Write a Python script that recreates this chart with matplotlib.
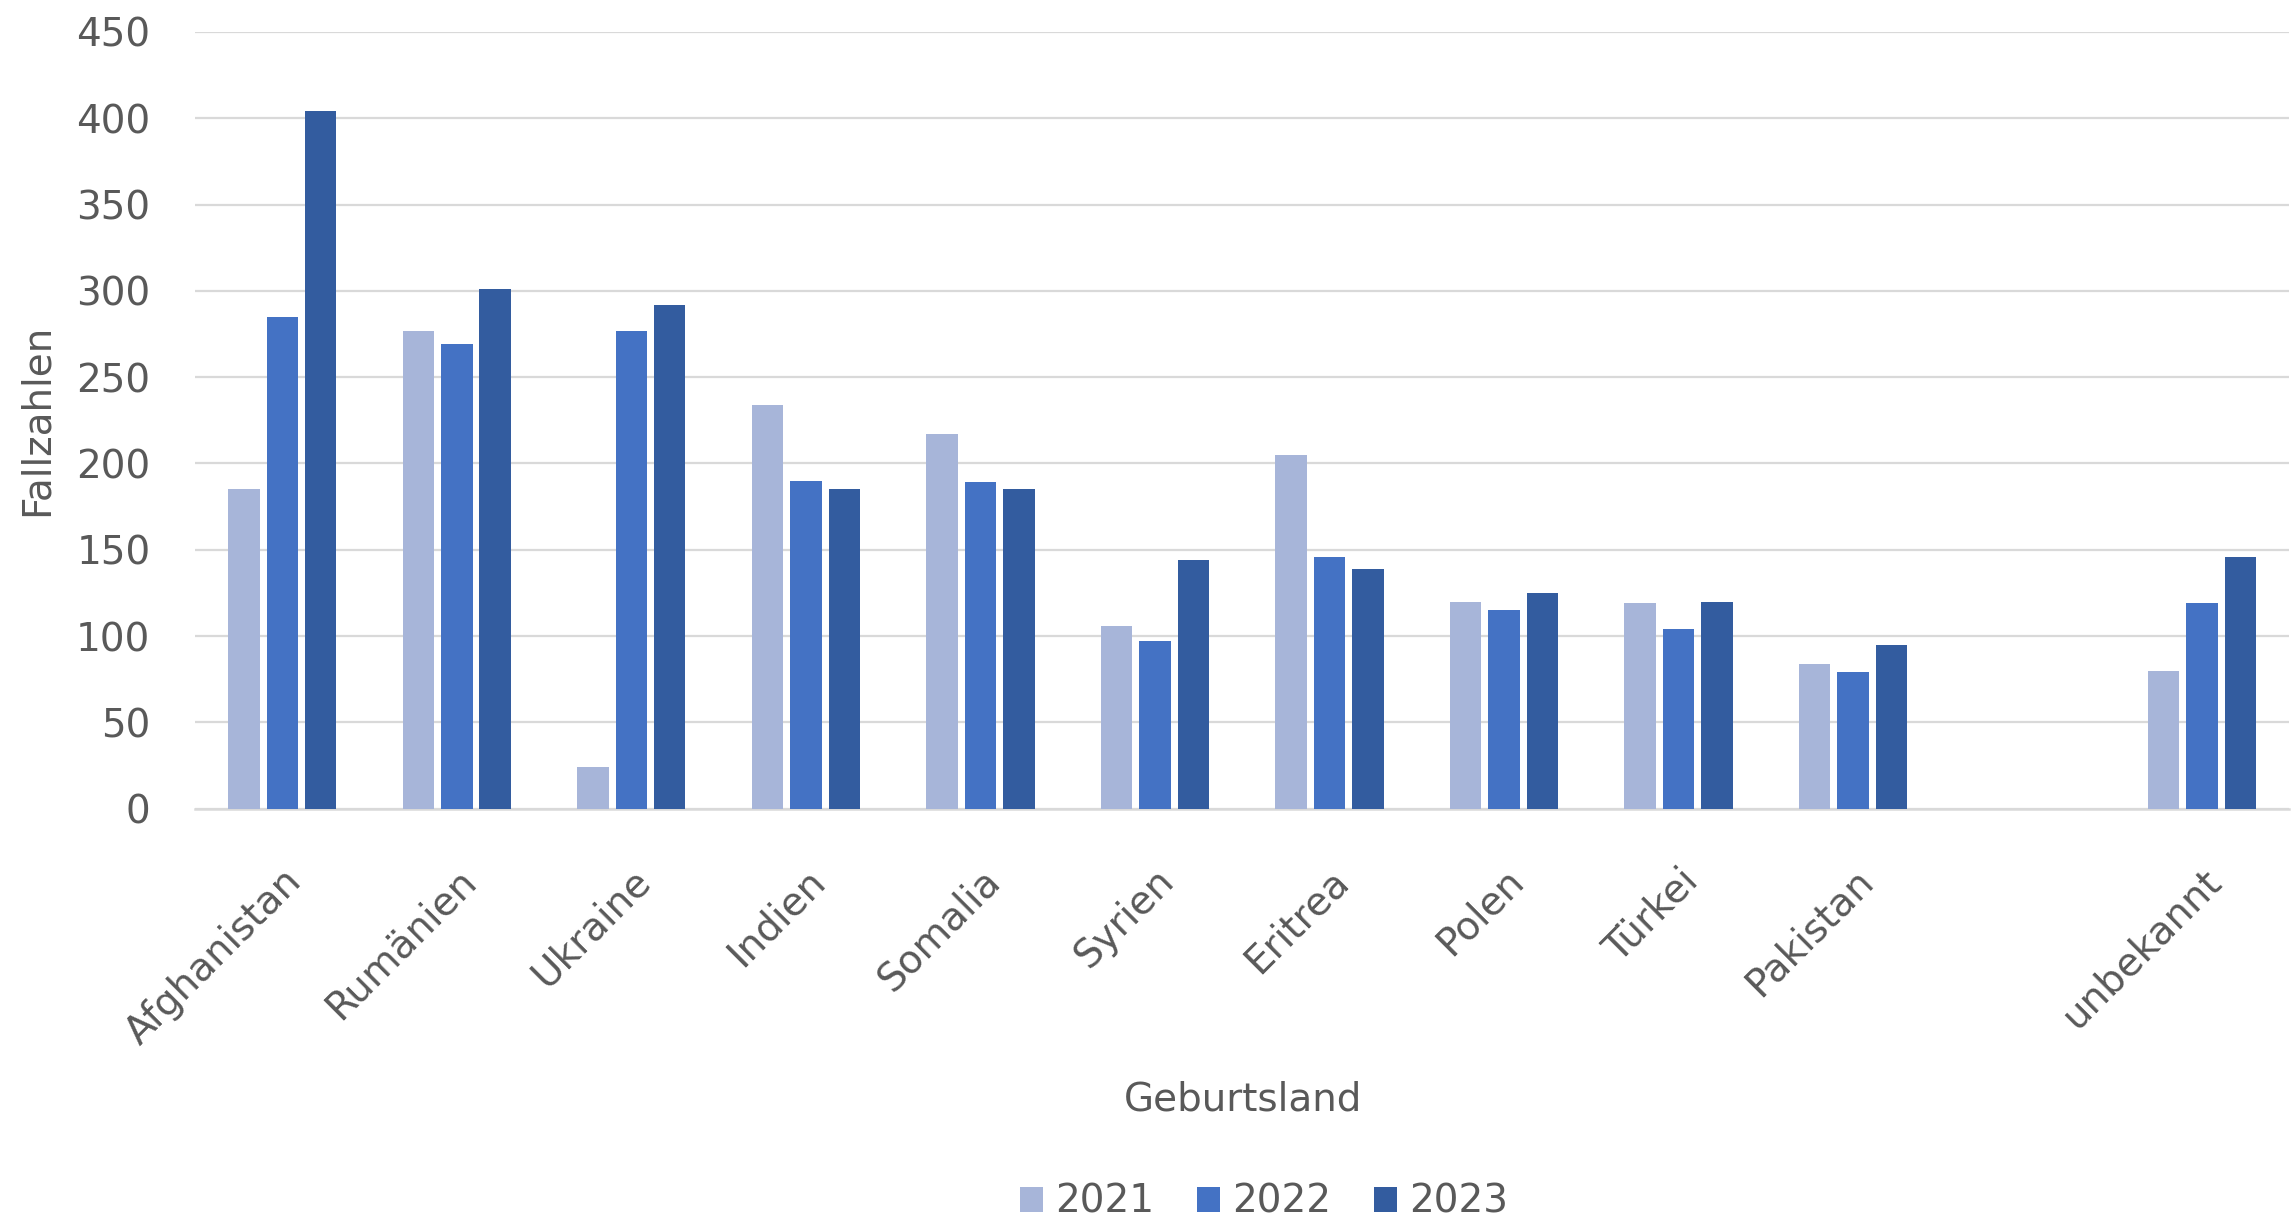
import matplotlib
matplotlib.use("Agg")
import matplotlib.pyplot as plt
import numpy as np

# Fallzahlen nach Geburtsland, 2021-2023
# die leere Kategorie vor "unbekannt" ist im Original eine Lücke
LAENDER = ["Afghanistan", "Rumänien", "Ukraine", "Indien", "Somalia", "Syrien",
           "Eritrea", "Polen", "Türkei", "Pakistan", "", "unbekannt"]
WERTE_2021 = [185, 277, 24, 234, 217, 106, 205, 120, 119, 84, np.nan, 80]
WERTE_2022 = [285, 269, 277, 190, 189, 97, 146, 115, 104, 79, np.nan, 119]
WERTE_2023 = [404, 301, 292, 185, 185, 144, 139, 125, 120, 95, np.nan, 146]
JAHRE = ["2021", "2022", "2023"]
Y_TICKS = [0, 50, 100, 150, 200, 250, 300, 350, 400, 450]

COLORS = ["#A7B5D9", "#4472C4", "#335C9F"]
INK = "#595959"
GRID = "#D9D9D9"
FS = 28

plt.rcParams["font.family"] = ["DejaVu Sans"]

fig = plt.figure(figsize=(22.94, 12.29), dpi=100)
ax = fig.add_axes([0.085, 0.342, 0.913, 0.632])

x = np.arange(len(LAENDER))
width = 0.18
step = 0.22
for i, (werte, jahr, col) in enumerate(zip([WERTE_2021, WERTE_2022, WERTE_2023], JAHRE, COLORS)):
    ax.bar(x + (i - 1) * step, werte, width=width, color=col, label=jahr, zorder=3)

ax.set_xlim(-0.5, len(LAENDER) - 0.5)
ax.set_ylim(0, 450)
ax.set_yticks(Y_TICKS)
ax.yaxis.grid(True, color=GRID, linewidth=1.6, zorder=0)
ax.set_axisbelow(True)
for s in ["top", "right", "left"]:
    ax.spines[s].set_visible(False)
ax.spines["bottom"].set_color(GRID)
ax.spines["bottom"].set_linewidth(1.8)

ax.tick_params(axis="y", length=0, pad=32, labelsize=FS, labelcolor=INK)
ax.tick_params(axis="x", length=0, pad=38, labelsize=FS, labelcolor=INK)
ax.set_xticks(x)
ax.set_xticklabels(LAENDER, rotation=45, ha="right", rotation_mode="anchor")

fig.text(0.016, 0.658, "Fallzahlen", rotation=90, ha="center", va="center",
         fontsize=FS, color=INK)
fig.text(0.542, 0.105, "Geburtsland", ha="center", va="center", fontsize=FS, color=INK)

leg = fig.legend(loc="center", bbox_to_anchor=(0.551, 0.022), ncol=3, frameon=False,
                 fontsize=FS, handlelength=0.6, handleheight=0.6, handletextpad=0.3,
                 columnspacing=1.1, labelcolor=INK)

fig.savefig("out.png", dpi=100, facecolor="white")
